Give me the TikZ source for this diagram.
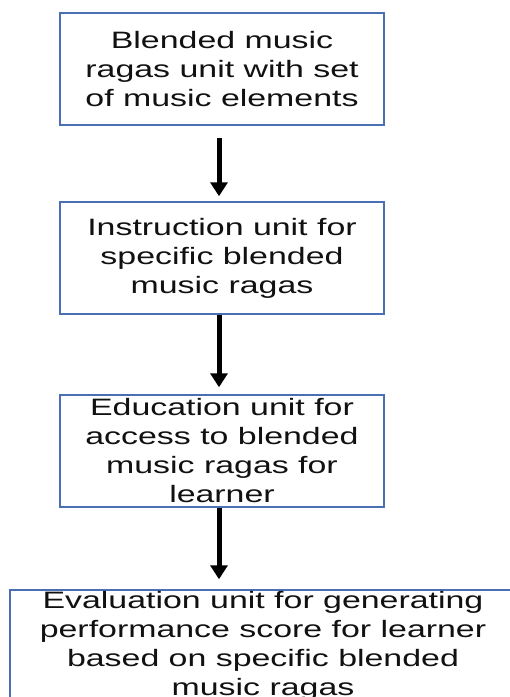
\documentclass[tikz,border=0pt]{standalone}
\usepackage{fontspec}
\newfontfamily\boxfont[FakeStretch=1.43]{Liberation Sans}
\usetikzlibrary{arrows.meta,calc}
\definecolor{boxblue}{HTML}{4A6FB5}
\definecolor{txt}{HTML}{111111}
\begin{document}
\begin{tikzpicture}[x=1pt,y=-1pt,
  box/.style={draw=boxblue, line width=1.5pt, fill=white, align=center, inner sep=0pt,
    minimum height=112pt, text=txt, font=\boxfont\fontsize{23.7}{29}\selectfont},
  arr/.style={line width=5pt, -{Triangle[width=17pt,length=14pt]}}]
\useasboundingbox (0,0) rectangle (510,697);
\clip (0,0) rectangle (510,697);
\fill[white] (0,0) rectangle (510,697);
\node[box, minimum width=324pt] (b1) at (222,69) {Blended music\\ragas unit with set\\of music elements};
\node[box, minimum width=324pt] (b2) at (222,258) {Instruction unit for\\specific blended\\music ragas};
\node[box, minimum width=324pt] (b3) at (222,451) {Education unit for\\access to blended\\music ragas for\\learner};
\node[box, minimum width=506pt] (b4) at (263,646) {Evaluation unit for generating\\performance score for learner\\based on specific blended\\music ragas};
\coordinate (a3e) at ($(b3.south |- b4.north)+(-3,-10)$);
\draw[arr] ($(b1.south)+(-3,12)$) -- ($(b2.north)+(-3,-5)$);
\draw[arr] ($(b2.south)+(-3,0)$) -- ($(b3.north)+(-3,-7)$);
\draw[arr] ($(b3.south)+(-3,0)$) -- (a3e);
\end{tikzpicture}
\end{document}
